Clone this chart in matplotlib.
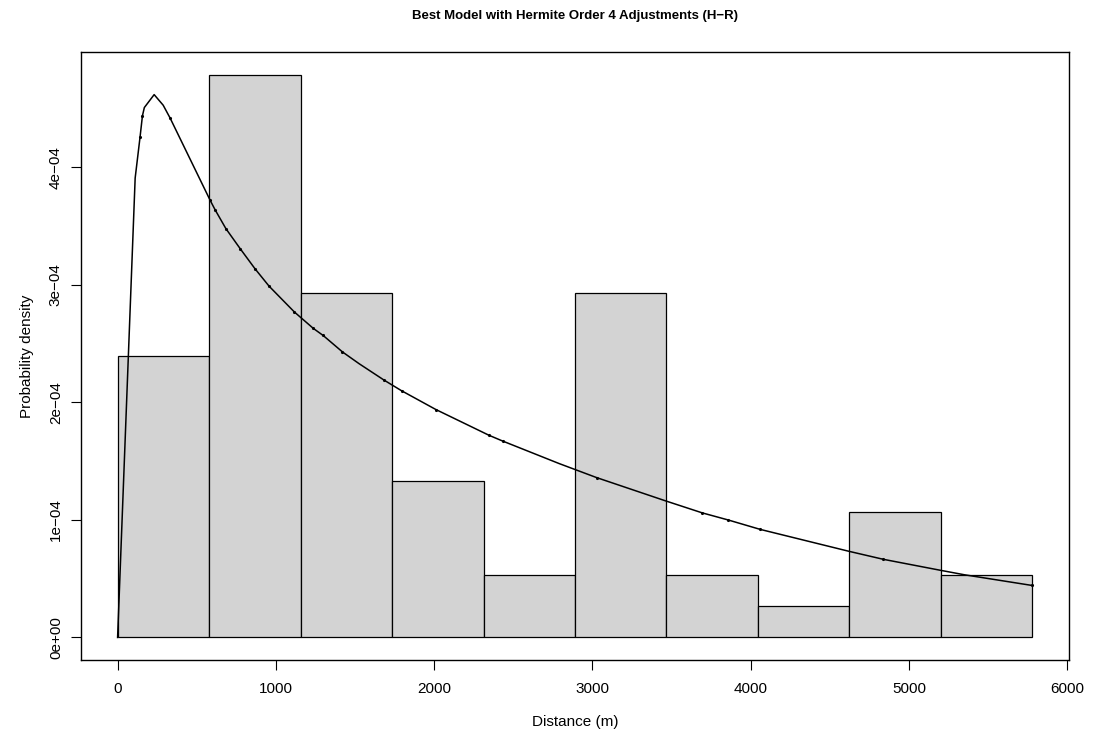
import matplotlib.pyplot as plt
import numpy as np

plt.rcParams['font.family'] = ['Liberation Sans', 'DejaVu Sans']

# histogram of detection distances (m)
bin_width = 578
bin_starts = [0, 578, 1156, 1734, 2312, 2890, 3468, 4046, 4624, 5202]
counts = [9, 18, 11, 5, 2, 11, 2, 1, 4, 2]

# fitted hazard-rate pdf with Hermite order 4 adjustment
curve_x = [0, 111, 142, 157, 169, 231, 288, 332, 585, 616, 684, 774, 867, 957,
           1117, 1237, 1299, 1421, 1526, 1684, 1794, 2011, 2348, 2436, 2790,
           3028, 3468, 3695, 3858, 4060, 4622, 4839, 5202, 5349, 5777]
curve_y = [0.0, 3.91, 4.26, 4.44, 4.51, 4.62, 4.53, 4.42, 3.72, 3.64, 3.48,
           3.31, 3.14, 2.99, 2.77, 2.63, 2.57, 2.43, 2.33, 2.19, 2.10, 1.94,
           1.72, 1.67, 1.48, 1.36, 1.16, 1.06, 1.00, 0.92, 0.733, 0.665,
           0.571, 0.534, 0.443]
dot_idx = [2, 3, 7, 8, 9, 10, 11, 12, 13, 14, 15, 16, 17, 19, 20, 21, 22, 23,
           25, 27, 28, 29, 31, 34]

xticks = [0, 1000, 2000, 3000, 4000, 5000, 6000]
yticks = [0, 1e-4, 2e-4, 3e-4, 4e-4]
ytick_labels = ['0e+00', '1e\u221204', '2e\u221204', '3e\u221204', '4e\u221204']

n = sum(counts)
density = np.array(counts) / (n * bin_width)
cy = np.array(curve_y) * 1e-4

W, H = 1094, 740
fig = plt.figure(figsize=(W / 100, H / 100), dpi=100)
ax = fig.add_axes([81 / W, (H - 660) / H, (1069 - 81) / W, (660 - 52) / H])

ax.bar(bin_starts, density, width=bin_width, align='edge',
       color='#d3d3d3', edgecolor='black', linewidth=0.9)
ax.plot(curve_x, cy, color='black', lw=1.1, marker='.', ms=2.5,
        markevery=dot_idx)

xmax = bin_starts[-1] + bin_width
ax.set_xlim(-0.04 * xmax, 1.04 * xmax)
ymax = density.max()
ax.set_ylim(-0.04 * ymax, 1.04 * ymax)

ax.set_xticks(xticks)
ax.set_xticklabels([str(t) for t in xticks])
ax.set_yticks(yticks)
ax.set_yticklabels(ytick_labels, rotation=90, va='center')
ax.tick_params(direction='out', length=7, width=0.8, labelsize=11)
ax.tick_params(axis='x', pad=9)
ax.tick_params(axis='y', pad=6)
for s in ax.spines.values():
    s.set_linewidth(1.0)

fig.text(575 / W, 1 - 722 / H, 'Distance (m)', ha='center', va='center',
         fontsize=11)
fig.text(27 / W, 1 - 356 / H, 'Probability density', ha='center',
         va='center', rotation=90, fontsize=11)
fig.text(575 / W, 1 - 16 / H,
         'Best Model with Hermite Order 4 Adjustments (H\u2212R)',
         ha='center', va='center', fontsize=9.5, fontweight='bold')

fig.savefig('out.png', dpi=100)
